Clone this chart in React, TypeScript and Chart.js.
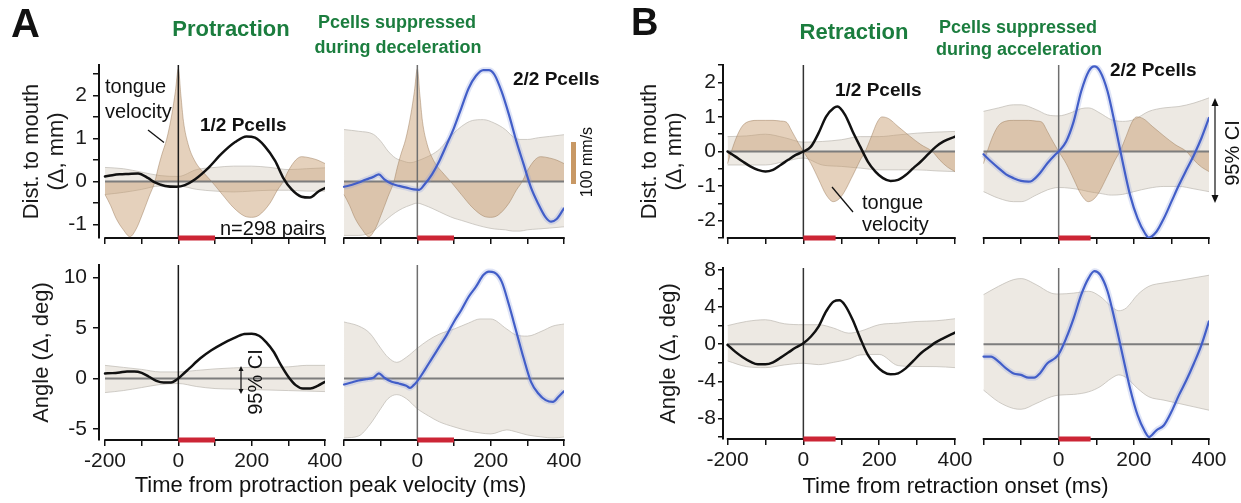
import React, { useEffect, useRef } from 'react';
import { Chart, registerables } from 'chart.js';

Chart.register(...registerables);

const FONT = "'Liberation Sans', Arial, Helvetica, sans-serif";
const GREEN = '#1b7d3e';

// ---------- shared axis data ----------
const xTicks = [-200, -100, 0, 100, 200, 300, 400];
const redBarA = [0, 100];
const redBarB = [0, 85];

// ---------- tongue velocity traces (shown in the same units as the top panels) ----------
const velProtT = [-200, -185, -170, -150, -132, -115, -100, -80, -64, -55, -45, -32, -18, -8, 0, 7, 14, 27, 45, 73, 91, 120, 150, 180, 200, 220, 250, 270, 286, 300, 320, 336, 360, 380, 400];
const velProtV = [-0.3, -0.55, -0.85, -1.12, -1.28, -1.1, -0.8, -0.35, 0, 0.32, 0.63, 0.98, 1.55, 2.1, 2.62, 2.0, 1.4, 0.86, 0.48, 0.17, 0, -0.3, -0.6, -0.8, -0.83, -0.78, -0.5, -0.2, 0, 0.25, 0.5, 0.58, 0.55, 0.5, 0.42];

const velRetT = [-200, -190, -175, -160, -140, -120, -100, -80, -60, -45, -30, -15, 0, 20, 40, 60, 79, 100, 130, 150, 163, 180, 195, 207, 225, 250, 280, 310, 340, 360, 380, 400];
const velRetV = [-0.35, 0, 0.45, 0.75, 0.88, 0.9, 0.9, 0.9, 0.88, 0.85, 0.58, 0.28, 0, -0.35, -0.8, -1.25, -1.45, -1.3, -0.7, -0.25, 0, 0.45, 0.85, 1.0, 0.95, 0.72, 0.45, 0.2, 0, -0.25, -0.45, -0.58];

// ---------- A1: protraction, 1/2 Pcells, distance ----------
const a1T = [-200, -180, -160, -136, -110, -82, -64, -36, -5, 18, 45, 82, 118, 155, 186, 209, 236, 264, 286, 309, 336, 359, 382, 400];
const a1Y = [0.12, 0.15, 0.17, 0.18, 0.19, 0.08, -0.02, -0.1, -0.12, -0.08, 0.05, 0.32, 0.65, 0.92, 1.05, 1.02, 0.82, 0.48, 0.09, -0.18, -0.35, -0.37, -0.23, -0.15];
const a1BandT = [-200, -150, -100, -50, 0, 50, 100, 150, 200, 250, 300, 350, 400];
const a1BandHi = [0.33, 0.3, 0.22, 0.14, 0.12, 0.28, 0.33, 0.36, 0.36, 0.33, 0.28, 0.3, 0.32];
const a1BandLo = [-0.3, -0.25, -0.18, -0.1, -0.1, -0.18, -0.22, -0.24, -0.22, -0.2, -0.2, -0.22, -0.22];

// ---------- A2: protraction, 2/2 Pcells, distance ----------
const a2T = [-200, -180, -160, -140, -120, -105, -90, -70, -50, -30, -10, 5, 20, 40, 60, 80, 100, 120, 140, 160, 180, 195, 210, 230, 250, 270, 290, 310, 330, 350, 365, 380, 400];
const a2Y = [-0.12, -0.08, -0.02, 0.05, 0.11, 0.17, 0.05, -0.05, -0.1, -0.14, -0.18, -0.19, -0.06, 0.17, 0.48, 0.86, 1.25, 1.71, 2.17, 2.46, 2.59, 2.59, 2.49, 2.09, 1.55, 0.94, 0.4, -0.14, -0.52, -0.83, -0.93, -0.87, -0.62];
const a2BandT = [-200, -160, -120, -100, -80, -60, -40, -20, 0, 20, 40, 60, 80, 100, 120, 150, 180, 210, 240, 260, 280, 300, 330, 360, 400];
const a2BandHi = [1.21, 1.17, 1.1, 0.94, 0.71, 0.55, 0.48, 0.44, 0.48, 0.55, 0.63, 0.75, 0.94, 1.13, 1.28, 1.42, 1.44, 1.36, 1.21, 1.05, 0.98, 0.98, 1.02, 1.05, 1.09];
const a2BandLo = [-1.25, -1.25, -1.15, -1.0, -0.85, -0.72, -0.62, -0.55, -0.5, -0.55, -0.62, -0.7, -0.78, -0.85, -0.9, -0.98, -1.05, -1.1, -1.12, -1.15, -1.15, -1.12, -1.1, -1.08, -1.05];

// ---------- A3: protraction, 1/2 Pcells, angle ----------
const a3T = [-200, -180, -160, -140, -120, -100, -80, -60, -40, -20, -5, 10, 30, 60, 90, 120, 150, 180, 200, 220, 240, 260, 280, 300, 320, 340, 360, 380, 400];
const a3Y = [0.5, 0.53, 0.6, 0.7, 0.7, 0.56, 0.17, -0.23, -0.4, -0.4, -0.13, 0.33, 1.0, 2.0, 2.8, 3.44, 3.97, 4.4, 4.44, 4.24, 3.58, 2.65, 1.32, 0.17, -0.66, -0.99, -0.99, -0.73, -0.33];
const a3BandT = [-200, -150, -100, -50, 0, 50, 100, 150, 200, 250, 300, 350, 400];
const a3BandHi = [1.3, 1.1, 0.9, 0.65, 0.65, 0.8, 0.95, 1.05, 1.1, 1.1, 1.15, 1.3, 1.3];
const a3BandLo = [-1.4, -1.2, -0.9, -0.6, -0.5, -0.8, -1.0, -1.05, -1.1, -1.15, -1.2, -1.25, -1.3];

// ---------- A4: protraction, 2/2 Pcells, angle ----------
const a4T = [-200, -180, -160, -140, -120, -105, -90, -70, -50, -30, -20, -10, 0, 20, 40, 60, 80, 100, 120, 140, 160, 180, 195, 210, 230, 250, 270, 290, 310, 330, 350, 370, 385, 400];
const a4Y = [-0.6, -0.4, -0.2, -0.07, 0.07, 0.5, 0.07, -0.33, -0.5, -0.73, -0.93, -0.66, -0.26, 0.83, 2.0, 3.15, 4.3, 5.63, 6.79, 8.1, 9.1, 10.26, 10.6, 10.5, 9.6, 7.28, 4.64, 2.0, -0.33, -1.49, -2.15, -2.32, -1.82, -1.26];
const a4BandT = [-200, -160, -130, -100, -80, -56, -30, 0, 30, 60, 100, 140, 171, 200, 244, 270, 300, 340, 370, 400];
const a4BandHi = [5.6, 5.2, 4.5, 3.0, 2.1, 1.6, 2.1, 3.0, 3.8, 4.4, 4.9, 5.5, 5.9, 5.9, 4.9, 4.3, 4.2, 4.7, 5.2, 5.4];
const a4BandLo = [-5.9, -5.7, -4.6, -3.0, -2.0, -1.6, -2.0, -3.0, -3.7, -4.3, -4.8, -5.2, -5.4, -5.5, -5.1, -5.3, -5.6, -5.8, -5.9, -5.8];

// ---------- B1: retraction, 1/2 Pcells, distance ----------
const b1T = [-200, -180, -160, -140, -120, -100, -80, -60, -40, -20, 0, 20, 40, 60, 80, 90, 110, 130, 150, 170, 190, 210, 230, 250, 270, 290, 310, 330, 350, 370, 400];
const b1Y = [0, -0.14, -0.29, -0.43, -0.53, -0.58, -0.53, -0.39, -0.24, -0.1, 0, 0.14, 0.53, 1.01, 1.26, 1.3, 1.06, 0.58, 0.14, -0.29, -0.58, -0.77, -0.85, -0.82, -0.68, -0.48, -0.29, -0.07, 0.14, 0.29, 0.43];
const b1BandT = [-200, -150, -100, -50, 0, 50, 100, 150, 200, 250, 300, 350, 400];
const b1BandHi = [0.43, 0.45, 0.5, 0.4, 0.27, 0.29, 0.34, 0.43, 0.43, 0.48, 0.53, 0.56, 0.58];
const b1BandLo = [-0.39, -0.39, -0.39, -0.29, -0.19, -0.39, -0.43, -0.48, -0.53, -0.53, -0.53, -0.56, -0.58];

// ---------- B2: retraction, 2/2 Pcells, distance ----------
const b2T = [-200, -180, -160, -140, -120, -100, -80, -70, -50, -30, -10, 0, 20, 40, 60, 80, 95, 110, 130, 150, 170, 190, 210, 230, 240, 260, 280, 300, 320, 340, 360, 380, 400];
const b2Y = [-0.08, -0.29, -0.48, -0.66, -0.77, -0.85, -0.87, -0.84, -0.63, -0.34, -0.1, 0, 0.29, 0.87, 1.74, 2.32, 2.46, 2.32, 1.74, 0.77, -0.29, -1.26, -1.93, -2.37, -2.49, -2.32, -1.93, -1.45, -0.97, -0.53, -0.1, 0.39, 0.97];
const b2BandT = [-200, -160, -120, -100, -60, -30, 0, 30, 60, 80, 110, 140, 170, 200, 240, 280, 320, 360, 400];
const b2BandHi = [1.16, 1.26, 1.35, 1.35, 1.21, 1.06, 1.03, 1.11, 1.24, 1.26, 1.11, 0.92, 0.87, 0.92, 1.16, 1.26, 1.3, 1.4, 1.55];
const b2BandLo = [-1.16, -1.35, -1.45, -1.45, -1.26, -1.11, -1.04, -1.06, -1.11, -1.16, -1.21, -1.26, -1.24, -1.16, -1.06, -1.01, -1.01, -1.08, -1.16];

// ---------- B3: retraction, 1/2 Pcells, angle ----------
const b3T = [-200, -180, -160, -140, -120, -100, -80, -60, -40, -20, 0, 20, 40, 60, 80, 95, 110, 130, 150, 170, 190, 210, 230, 250, 270, 290, 310, 330, 350, 370, 400];
const b3Y = [-0.07, -0.8, -1.4, -1.87, -2.16, -2.16, -1.95, -1.44, -0.9, -0.36, 0.1, 0.83, 1.9, 3.53, 4.6, 4.72, 4.18, 2.63, 0.65, -1.15, -2.23, -2.95, -3.24, -3.13, -2.6, -1.8, -0.97, -0.36, 0.22, 0.65, 1.26];
const b3BandT = [-200, -150, -100, -50, 0, 40, 80, 120, 150, 200, 250, 300, 350, 400];
const b3BandHi = [2.0, 2.45, 2.63, 2.2, 2.1, 2.1, 1.73, 1.19, 1.4, 2.1, 2.27, 2.45, 2.52, 2.74];
const b3BandLo = [-1.8, -2.41, -2.52, -2.23, -2.05, -2.2, -1.95, -1.6, -1.15, -1.1, -2.3, -2.4, -2.41, -2.52];

// ---------- B4: retraction, 2/2 Pcells, angle ----------
const b4T = [-200, -180, -160, -140, -120, -100, -80, -65, -50, -30, -10, 0, 20, 40, 60, 80, 95, 110, 130, 150, 170, 190, 210, 230, 240, 260, 280, 300, 320, 340, 360, 380, 400];
const b4Y = [-1.33, -1.33, -1.87, -2.6, -3.14, -3.3, -3.6, -3.6, -3.14, -2.05, -1.51, -1.08, 0.65, 2.81, 5.33, 7.14, 7.86, 7.5, 5.7, 2.45, -1.15, -4.76, -7.64, -9.44, -9.98, -9.26, -8.72, -7.28, -5.48, -3.86, -2.05, -0.07, 2.45];
const b4BandT = [-200, -160, -120, -100, -60, -20, 0, 40, 80, 110, 140, 160, 180, 210, 240, 280, 320, 360, 400];
const b4BandHi = [5.33, 6.23, 6.95, 7.06, 6.41, 5.5, 5.4, 5.5, 5.7, 5.15, 4.07, 3.6, 3.9, 5.33, 6.23, 6.6, 6.85, 7.14, 7.42];
const b4BandLo = [-4.94, -6.2, -6.92, -7.0, -6.38, -5.66, -5.48, -5.4, -5.12, -4.58, -3.68, -3.3, -3.6, -4.76, -5.66, -6.02, -6.38, -6.74, -7.1];

// ---------- styles ----------
const BLACK = '#111111';
const BLUE = 'rgb(66,94,200)';
const BLUE_HALO = 'rgba(130,150,222,0.26)';
const BAND_FILL = 'rgba(222,215,204,0.55)';
const BAND_EDGE = 'rgba(190,185,178,0.7)';
const BROWN_FILL = 'rgba(198,154,106,0.45)';
const BROWN_EDGE = 'rgba(150,118,85,0.45)';
const RED = '#cc2535';

type PanelSpec = {
  id: string;
  canvasLeft: number;
  areaLeft: number;
  areaRight: number;
  areaTop: number;
  areaBottom: number;
  xMin: number;
  yMin: number;
  yMax: number;
  yStep: number;
  yLabelEvery: number;
  showY: boolean;
  yTitle?: string | string[];
  yTitlePad?: number;
  yTickLen: number;
  yTickPad: number;
  bottomRow: boolean;
  skipFirstX: boolean;
  band: [number[], number[], number[]];
  vel?: [number[], number[]];
  line: [number[], number[]];
  lineColor: string;
  halo: boolean;
  vColor: string;
  red: number[];
};

const panels: PanelSpec[] = [
  {
    id: 'A1', canvasLeft: 4, areaLeft: 99, areaRight: 325, areaTop: 65, areaBottom: 238,
    xMin: -216.4, yMin: -1.31, yMax: 2.71, yStep: 0.5, yLabelEvery: 1, showY: true,
    yTitle: ['Dist. to mouth', '(\u0394, mm)'], yTitlePad: 15.5, yTickLen: 6, yTickPad: 6,
    bottomRow: false, skipFirstX: false, band: [a1BandT, a1BandHi, a1BandLo], vel: [velProtT, velProtV],
    line: [a1T, a1Y], lineColor: BLACK, halo: false, vColor: '#1a1a1a', red: redBarA,
  },
  {
    id: 'A2', canvasLeft: 0, areaLeft: 338, areaRight: 564, areaTop: 65, areaBottom: 238,
    xMin: -216.4, yMin: -1.31, yMax: 2.71, yStep: 0.5, yLabelEvery: 1, showY: false,
    yTickLen: 6, yTickPad: 6,
    bottomRow: false, skipFirstX: true, band: [a2BandT, a2BandHi, a2BandLo], vel: [velProtT, velProtV],
    line: [a2T, a2Y], lineColor: BLUE, halo: true, vColor: '#6f6f6f', red: redBarA,
  },
  {
    id: 'A3', canvasLeft: 4, areaLeft: 99, areaRight: 325, areaTop: 265, areaBottom: 440,
    xMin: -216.4, yMin: -6.1, yMax: 11.25, yStep: 5, yLabelEvery: 5, showY: true,
    yTitle: 'Angle (\u0394, deg)', yTitlePad: 25.5, yTickLen: 6, yTickPad: 6,
    bottomRow: true, skipFirstX: false, band: [a3BandT, a3BandHi, a3BandLo],
    line: [a3T, a3Y], lineColor: BLACK, halo: false, vColor: '#1a1a1a', red: redBarA,
  },
  {
    id: 'A4', canvasLeft: 0, areaLeft: 338, areaRight: 564, areaTop: 265, areaBottom: 440,
    xMin: -216.4, yMin: -6.1, yMax: 11.25, yStep: 5, yLabelEvery: 5, showY: false,
    yTickLen: 6, yTickPad: 6,
    bottomRow: true, skipFirstX: true, band: [a4BandT, a4BandHi, a4BandLo],
    line: [a4T, a4Y], lineColor: BLUE, halo: true, vColor: '#6f6f6f', red: redBarA,
  },
  {
    id: 'B1', canvasLeft: 628, areaLeft: 723, areaRight: 955, areaTop: 65, areaBottom: 238,
    xMin: -212, yMin: -2.5, yMax: 2.5, yStep: 0.5, yLabelEvery: 1, showY: true,
    yTitle: ['Dist. to mouth', '(\u0394, mm)'], yTitlePad: 9.5, yTickLen: 5, yTickPad: 2,
    bottomRow: false, skipFirstX: false, band: [b1BandT, b1BandHi, b1BandLo], vel: [velRetT, velRetV],
    line: [b1T, b1Y], lineColor: BLACK, halo: false, vColor: '#333333', red: redBarB,
  },
  {
    id: 'B2', canvasLeft: 0, areaLeft: 979, areaRight: 1209, areaTop: 65, areaBottom: 238,
    xMin: -212, yMin: -2.5, yMax: 2.5, yStep: 0.5, yLabelEvery: 1, showY: false,
    yTickLen: 5, yTickPad: 2,
    bottomRow: false, skipFirstX: true, band: [b2BandT, b2BandHi, b2BandLo], vel: [velRetT, velRetV],
    line: [b2T, b2Y], lineColor: BLUE, halo: true, vColor: '#6f6f6f', red: redBarB,
  },
  {
    id: 'B3', canvasLeft: 628, areaLeft: 723, areaRight: 955, areaTop: 268, areaBottom: 439,
    xMin: -212, yMin: -10.2, yMax: 8.2, yStep: 2, yLabelEvery: 4, showY: true,
    yTitle: 'Angle (\u0394, deg)', yTitlePad: 28.5, yTickLen: 5, yTickPad: 2,
    bottomRow: true, skipFirstX: false, band: [b3BandT, b3BandHi, b3BandLo],
    line: [b3T, b3Y], lineColor: BLACK, halo: false, vColor: '#333333', red: redBarB,
  },
  {
    id: 'B4', canvasLeft: 0, areaLeft: 979, areaRight: 1209, areaTop: 268, areaBottom: 439,
    xMin: -212, yMin: -10.2, yMax: 8.2, yStep: 2, yLabelEvery: 4, showY: false,
    yTickLen: 5, yTickPad: 2,
    bottomRow: true, skipFirstX: true, band: [b4BandT, b4BandHi, b4BandLo],
    line: [b4T, b4Y], lineColor: BLUE, halo: true, vColor: '#6f6f6f', red: redBarB,
  },
];

const PAD_T = 24;
const PAD_R = 24;

function geometry(s: PanelSpec) {
  const padL = s.showY ? 0 : 2;
  const left = s.showY ? s.canvasLeft : s.areaLeft - padL;
  const yW = s.showY ? s.areaLeft - s.canvasLeft : 0;
  const xH = s.bottomRow ? 45 : 8;
  const padB = s.bottomRow ? 0 : 16;
  const w = s.areaRight - left + PAD_R;
  const h = PAD_T + (s.areaBottom - s.areaTop) + xH + padB;
  const top = s.areaTop - PAD_T;
  return { padL, left, yW, xH, padB, w, h, top };
}

const pts = (ts: number[], vs: number[]) => ts.map((t, i) => ({ x: t, y: vs[i] }));

const axisLinePlugin = {
  id: 'axisLine',
  beforeDatasetsDraw(chart: any) {
    const { ctx, chartArea, scales } = chart;
    const x = scales.x;
    ctx.save();
    ctx.strokeStyle = BLACK;
    ctx.lineWidth = 2;
    ctx.beginPath();
    ctx.moveTo(x.getPixelForValue(xTicks[0]) - 0.75, chartArea.bottom);
    ctx.lineTo(x.getPixelForValue(xTicks[xTicks.length - 1]) + 0.75, chartArea.bottom);
    ctx.stroke();
    ctx.restore();
  },
};

function buildConfig(s: PanelSpec, g: ReturnType<typeof geometry>): any {
  const base = { pointRadius: 0, cubicInterpolationMode: 'monotone' as const };
  const datasets: any[] = [];
  const [bt, bhi, blo] = s.band;
  datasets.push({ ...base, data: pts(bt, blo), borderColor: BAND_EDGE, borderWidth: 1, fill: false, order: 10 });
  datasets.push({ ...base, data: pts(bt, bhi), borderColor: BAND_EDGE, borderWidth: 1, fill: '-1', backgroundColor: BAND_FILL, order: 10 });
  if (s.vel) {
    datasets.push({ ...base, data: pts(s.vel[0], s.vel[1]), borderColor: BROWN_EDGE, borderWidth: 1, fill: { value: 0 }, backgroundColor: BROWN_FILL, order: 8 });
  }
  datasets.push({ ...base, data: [{ x: xTicks[0], y: 0 }, { x: xTicks[xTicks.length - 1], y: 0 }], borderColor: '#7d7d7d', borderWidth: 2, order: 6 });
  datasets.push({ ...base, data: [{ x: 0, y: s.yMin }, { x: 0, y: s.yMax }], borderColor: s.vColor, borderWidth: 1.5, order: 5 });
  if (s.halo) {
    datasets.push({ ...base, data: pts(s.line[0], s.line[1]), borderColor: BLUE_HALO, borderWidth: 6, order: 3, borderJoinStyle: 'round' });
  }
  datasets.push({ ...base, data: pts(s.line[0], s.line[1]), borderColor: s.lineColor, borderWidth: s.halo ? 2.2 : 2.5, order: 2, borderJoinStyle: 'round', borderCapStyle: 'round' });
  datasets.push({ ...base, data: [{ x: s.red[0], y: s.yMin }, { x: s.red[1], y: s.yMin }], borderColor: RED, borderWidth: 5, clip: false, order: 0, borderCapStyle: 'butt' });

  const tickFont = { family: FONT, size: 21 };
  return {
    type: 'line',
    data: { datasets },
    plugins: [axisLinePlugin],
    options: {
      responsive: false,
      maintainAspectRatio: false,
      animation: false,
      events: [],
      layout: { padding: { left: g.padL, right: PAD_R, top: PAD_T, bottom: g.padB } },
      plugins: { legend: { display: false }, tooltip: { enabled: false } },
      scales: {
        x: {
          type: 'linear',
          min: s.xMin,
          max: 400,
          afterBuildTicks: (sc: any) => { sc.ticks = xTicks.map((v) => ({ value: v })); },
          afterFit: (sc: any) => { sc.height = g.xH; },
          border: { display: false },
          grid: { drawOnChartArea: false, drawTicks: true, tickLength: 6, color: BLACK, lineWidth: 1.5 },
          ticks: {
            display: s.bottomRow,
            autoSkip: false,
            maxRotation: 0,
            padding: 3,
            font: tickFont,
            color: '#1a1a1a',
            callback: (v: number) => (v % 200 === 0 && !(s.skipFirstX && v === -200) ? String(v) : ''),
          },
        },
        y: {
          type: 'linear',
          display: s.showY,
          min: s.yMin,
          max: s.yMax,
          afterFit: (sc: any) => { sc.width = g.yW; },
          border: { display: true, color: BLACK, width: 2 },
          grid: { drawOnChartArea: false, drawTicks: true, tickLength: s.yTickLen, color: BLACK, lineWidth: 1.5 },
          ticks: {
            stepSize: s.yStep,
            includeBounds: false,
            autoSkip: false,
            padding: s.yTickPad,
            font: tickFont,
            color: '#1a1a1a',
            callback: (v: number) => {
              const r = v / s.yLabelEvery;
              return Math.abs(r - Math.round(r)) < 1e-6 ? String(Math.round(v)) : '';
            },
          },
          title: {
            display: !!s.yTitle,
            text: s.yTitle,
            color: '#1a1a1a',
            font: { family: FONT, size: 22, lineHeight: 1.14 },
            padding: { top: s.yTitlePad || 0, bottom: 0 },
          },
        },
      },
    },
  };
}

function Panel({ spec }: { spec: PanelSpec }) {
  const ref = useRef<HTMLCanvasElement>(null);
  const g = geometry(spec);
  useEffect(() => {
    const chart = new Chart(ref.current as HTMLCanvasElement, buildConfig(spec, g));
    return () => chart.destroy();
  }, []);
  return (
    <canvas
      ref={ref}
      width={g.w}
      height={g.h}
      style={{ position: 'absolute', left: g.left, top: g.top, width: g.w, height: g.h }}
    />
  );
}

type Txt = { t: string; x: number; b: number; fs: number; bold?: boolean; color?: string; center?: boolean };
const texts: Txt[] = [
  { t: 'A', x: 11, b: 37, fs: 40, bold: true },
  { t: 'B', x: 631, b: 35, fs: 38, bold: true },
  { t: 'Protraction', x: 231, b: 37, fs: 22, bold: true, color: GREEN, center: true },
  { t: 'Pcells suppressed', x: 397, b: 28, fs: 18, bold: true, color: GREEN, center: true },
  { t: 'during deceleration', x: 398, b: 53, fs: 18, bold: true, color: GREEN, center: true },
  { t: 'Retraction', x: 854, b: 40, fs: 22, bold: true, color: GREEN, center: true },
  { t: 'Pcells suppressed', x: 1018, b: 33, fs: 18, bold: true, color: GREEN, center: true },
  { t: 'during acceleration', x: 1019, b: 55, fs: 18, bold: true, color: GREEN, center: true },
  { t: '1/2 Pcells', x: 200, b: 131.5, fs: 19, bold: true },
  { t: '2/2 Pcells', x: 513, b: 85, fs: 19, bold: true },
  { t: '1/2 Pcells', x: 835, b: 96.5, fs: 19, bold: true },
  { t: '2/2 Pcells', x: 1110, b: 76.5, fs: 19, bold: true },
  { t: 'tongue', x: 105, b: 93, fs: 20 },
  { t: 'velocity', x: 105, b: 118, fs: 20 },
  { t: 'tongue', x: 862, b: 208.5, fs: 20 },
  { t: 'velocity', x: 862, b: 231, fs: 20 },
  { t: 'n=298 pairs', x: 220, b: 235, fs: 20 },
  { t: 'Time from protraction peak velocity (ms)', x: 330.5, b: 493, fs: 22, center: true },
  { t: 'Time from retraction onset (ms)', x: 955.5, b: 494, fs: 22, center: true },
];

type RTxt = { t: string; cx: number; cy: number; fs: number };
const rtexts: RTxt[] = [
  { t: '95% CI', cx: 255, cy: 382, fs: 20 },
  { t: '95% CI', cx: 1232, cy: 153, fs: 20 },
  { t: '100 mm/s', cx: 587, cy: 162, fs: 16 },
];

function Arrow({ x, y1, y2, hw, hl }: { x: number; y1: number; y2: number; hw: number; hl: number }) {
  return (
    <g>
      <line x1={x} y1={y1 + hl * 0.6} x2={x} y2={y2 - hl * 0.6} stroke={BLACK} strokeWidth={1.2} />
      <polygon points={`${x},${y1} ${x - hw},${y1 + hl} ${x + hw},${y1 + hl}`} fill={BLACK} />
      <polygon points={`${x},${y2} ${x - hw},${y2 - hl} ${x + hw},${y2 - hl}`} fill={BLACK} />
    </g>
  );
}

export default function App() {
  return (
    <div style={{ position: 'absolute', left: 0, top: 0, width: 1241, height: 503, background: '#fff', overflow: 'hidden', fontFamily: FONT }}>
      {panels.map((p) => (
        <Panel key={p.id} spec={p} />
      ))}
      <svg width={1241} height={503} style={{ position: 'absolute', left: 0, top: 0, pointerEvents: 'none' }}>
        <line x1={148} y1={130} x2={164} y2={142.5} stroke={BLACK} strokeWidth={1.3} />
        <line x1={832} y1={187} x2={853} y2={212} stroke={BLACK} strokeWidth={1.3} />
        <Arrow x={241} y1={366} y2={394} hw={2.5} hl={5} />
        <Arrow x={1215} y1={98} y2={203} hw={3.5} hl={8} />
        <rect x={571} y={142} width={5} height={42} fill="rgb(200,152,100)" />
      </svg>
      {texts.map((t, i) => (
        <div
          key={'t' + i}
          style={{
            position: 'absolute',
            left: t.x,
            top: t.b - 0.8465 * t.fs,
            fontSize: t.fs,
            lineHeight: t.fs + 'px',
            fontWeight: t.bold ? 700 : 400,
            color: t.color || '#111',
            whiteSpace: 'nowrap',
            transform: t.center ? 'translateX(-50%)' : undefined,
          }}
        >
          {t.t}
        </div>
      ))}
      {rtexts.map((t, i) => (
        <div
          key={'r' + i}
          style={{
            position: 'absolute',
            left: t.cx,
            top: t.cy,
            fontSize: t.fs,
            lineHeight: t.fs + 'px',
            color: '#111',
            whiteSpace: 'nowrap',
            transform: 'translate(-50%, -50%) rotate(-90deg)',
          }}
        >
          {t.t}
        </div>
      ))}
    </div>
  );
}
